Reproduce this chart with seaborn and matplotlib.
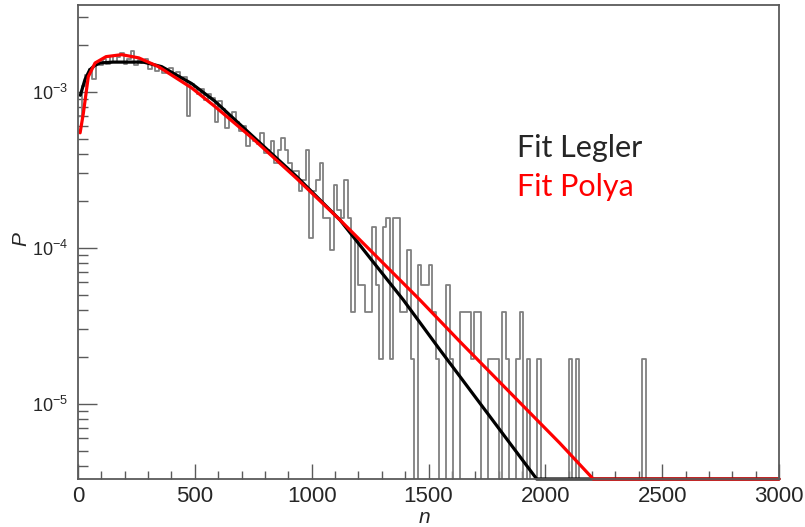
import numpy as np
import pandas as pd
import matplotlib
matplotlib.use("Agg")
import matplotlib.pyplot as plt
import seaborn as sns
from matplotlib.ticker import MultipleLocator, LogLocator, LogFormatterSciNotation, NullFormatter

# ---- histogram: entries per 15-wide bin in n, from n = 0 upward ----
bin_width = 15
n_max = 3000
counts = [
    36, 56, 66, 72, 62, 80, 76, 84, 78, 88,
    80, 86, 92, 78, 84, 94, 76, 82, 79, 84,
    72, 76, 70, 74, 68, 72, 73, 66, 69, 62,
    64, 36, 58, 55, 50, 54, 46, 50, 47, 33,
    45, 40, 30, 36, 38, 33, 29, 31, 23, 27,
    25, 24, 28, 21, 22, 25, 18, 22, 26, 22,
    18, 16, 16, 12, 14, 22, 6, 12, 14, 18,
    8, 8, 5, 13, 9, 8, 14, 8, 2, 6,
    3, 3, 2, 2, 7, 3, 1, 7, 8, 1,
    8, 8, 2, 2, 5, 1, 0, 4, 3, 3,
    4, 2, 1, 0, 0, 3, 1, 0, 0, 2,
    2, 2, 1, 2, 2, 0, 0, 1, 1, 1,
    0, 2, 1, 0, 0, 1, 2, 0, 1, 0,
    0, 1, 0, 0, 0, 0, 0, 0, 0, 0,
    1, 0, 1, 0, 0, 0, 0, 0, 0, 0,
    0, 0, 0, 0, 0, 0, 0, 0, 0, 0,
    0, 1,
]
p_per_entry = 1.94e-5

# ---- fitted curves (n, P) ----
legler_n = [10, 30, 50, 70, 94, 150, 280, 358, 486, 586, 749, 936, 1121, 1250,
            1392, 1549, 1750, 1963, 2200, 3000]
legler_p = [9.5e-4, 1.2e-3, 1.38e-3, 1.47e-3, 1.53e-3, 1.55e-3, 1.55e-3, 1.45e-3,
            1.13e-3, 8.7e-4, 5.17e-4, 2.86e-4, 1.51e-4, 8.6e-5, 4.64e-5, 2.22e-5,
            8.8e-6, 3.3e-6, 1.0e-6, 1.0e-8]

polya_n = [9, 23, 44, 73, 120, 187, 260, 344, 486, 586, 749, 936, 1121, 1463,
           1635, 2062, 2205, 3000]
polya_p = [5.46e-4, 7.3e-4, 1.25e-3, 1.53e-3, 1.68e-3, 1.73e-3, 1.65e-3, 1.45e-3,
           1.06e-3, 8.05e-4, 5.0e-4, 2.78e-4, 1.51e-4, 4.64e-5, 2.5e-5, 5.6e-6,
           3.3e-6, 2.0e-7]

y_lo, y_hi = 3.3e-6, 3.6e-3

# ---- style ----
sns.set_style("white")
plt.rcParams["font.family"] = ["Liberation Sans", "DejaVu Sans"]
plt.rcParams["mathtext.fontset"] = "custom"
plt.rcParams["mathtext.rm"] = "Liberation Sans"
plt.rcParams["mathtext.it"] = "Liberation Sans:italic"
plt.rcParams["mathtext.default"] = "regular"

frame_col = "#5a5a5a"

fig = plt.figure(figsize=(8.05, 5.27), dpi=100)
ax = fig.add_axes([78 / 805, 1 - 479 / 527, (779 - 78) / 805, (479 - 5) / 527])

counts = counts + [0] * (n_max // bin_width - len(counts))
n_bins = len(counts)
hist_df = pd.DataFrame({
    "n": np.arange(n_bins) * bin_width + bin_width / 2,
    "P": np.array(counts, dtype=float) * p_per_entry,
})

sns.histplot(data=hist_df, x="n", weights="P", bins=n_bins, binrange=(0, n_max),
             element="step", fill=False, color="#808080", linewidth=1.3, ax=ax)

ax.set_yscale("log")

legler = pd.DataFrame({"n": legler_n, "P": np.maximum(legler_p, y_lo)})
polya = pd.DataFrame({"n": polya_n, "P": np.maximum(polya_p, y_lo)})
sns.lineplot(data=legler, x="n", y="P", color="black", linewidth=2.3,
             estimator=None, sort=False, ax=ax, clip_on=False)
sns.lineplot(data=polya, x="n", y="P", color="#ff0000", linewidth=2.3,
             estimator=None, sort=False, ax=ax, clip_on=False)

ax.set_xlim(0, n_max)
ax.set_ylim(y_lo, y_hi)

# axes frame and ticks
for side in ["left", "bottom", "right", "top"]:
    ax.spines[side].set_color(frame_col)
    ax.spines[side].set_linewidth(1.3)

ax.xaxis.set_major_locator(MultipleLocator(500))
ax.xaxis.set_minor_locator(MultipleLocator(100))
ax.yaxis.set_major_locator(LogLocator(base=10))
ax.yaxis.set_minor_locator(LogLocator(base=10, subs=np.arange(2, 10)))
ax.yaxis.set_major_formatter(LogFormatterSciNotation())
ax.yaxis.set_minor_formatter(NullFormatter())

ax.tick_params(axis="x", which="major", direction="in", length=11, width=1.0,
               color=frame_col, labelsize=16, pad=5, bottom=True, top=False)
ax.tick_params(axis="x", which="minor", direction="in", length=6, width=1.0,
               color=frame_col, bottom=True, top=False)
ax.tick_params(axis="y", which="major", direction="in", length=14, width=1.0,
               color=frame_col, labelsize=13, pad=7, left=True, right=False)
ax.tick_params(axis="y", which="minor", direction="in", length=7, width=1.0,
               color=frame_col, left=True, right=False)

ax.set_xlabel("n", fontsize=15, fontstyle="italic")
ax.set_ylabel("P", fontsize=15, fontstyle="italic", ha="center", va="center")
ax.xaxis.set_label_coords((424 - 78) / 701, (479 - 508) / 474)
ax.yaxis.set_label_coords((21 - 78) / 701, (479 - 239) / 474)

# curve labels
ax.text(517 / 805, 1 - 157 / 527, "Fit Legler", transform=fig.transFigure,
        fontsize=22, color="#262626", family=["Lato", "DejaVu Sans"],
        ha="left", va="baseline")
ax.text(517 / 805, 1 - 196 / 527, "Fit Polya", transform=fig.transFigure,
        fontsize=22, color="#ff0000", family=["Lato", "DejaVu Sans"],
        ha="left", va="baseline")

fig.savefig("out.png", dpi=100, facecolor="white")
